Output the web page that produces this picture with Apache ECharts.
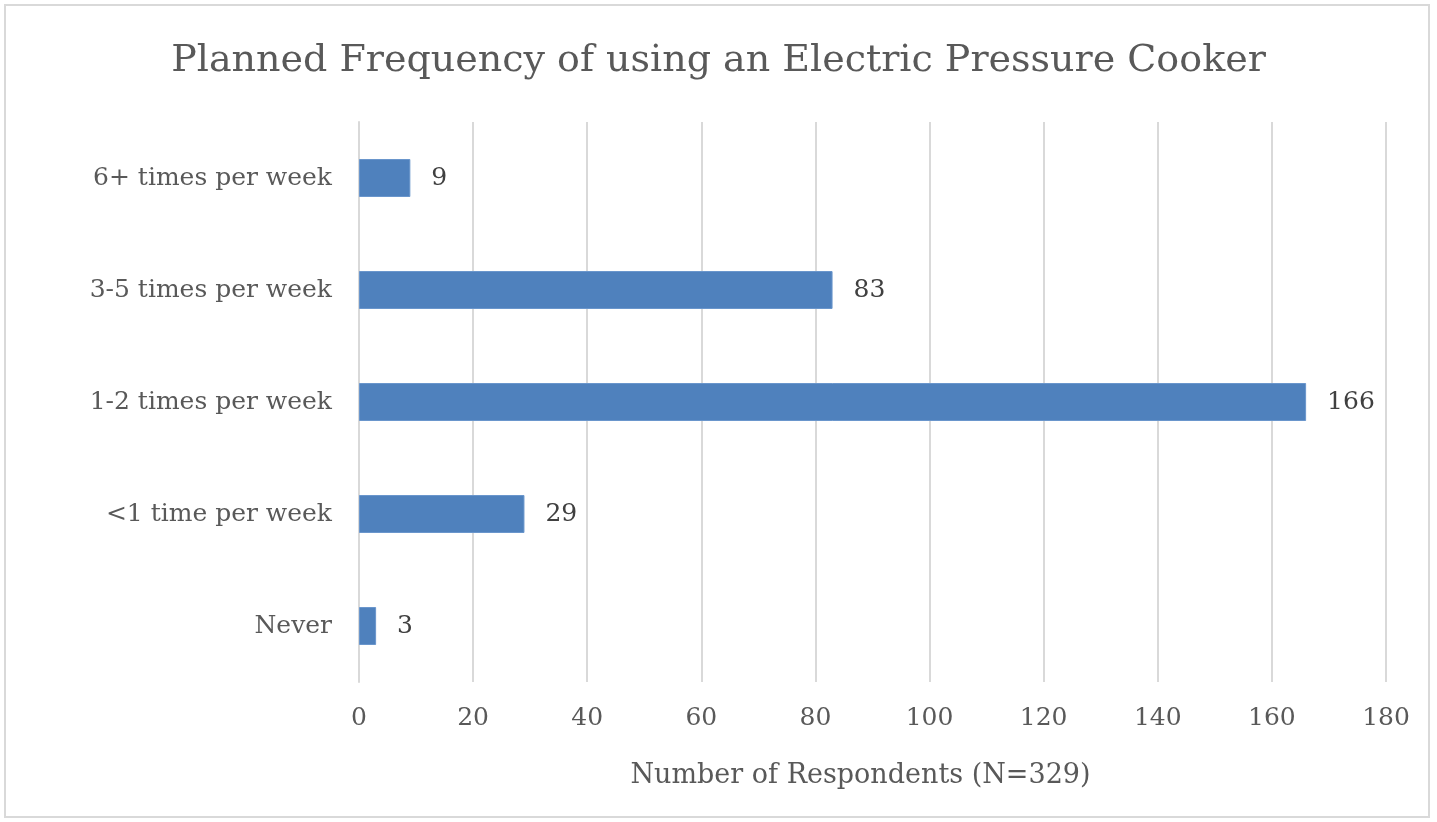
<!DOCTYPE html>
<html>
<head>
<meta charset="utf-8">
<script src="https://cdn.jsdelivr.net/npm/echarts@6/dist/echarts.min.js"></script>
<style>
  html, body { margin: 0; padding: 0; background: #ffffff; }
  #frame { position: absolute; left: 4px; top: 4px; width: 1426px; height: 814px; border: 2px solid #d9d9d9; box-sizing: border-box; }
  #chart { position: absolute; left: 0; top: 0; width: 1437px; height: 822px; }
</style>
</head>
<body>
<div id="frame"></div>
<div id="chart"></div>
<script>
// Survey answers, listed bottom to top as drawn on the category axis
const categories = ['Never', '<1 time per week', '1-2 times per week', '3-5 times per week', '6+ times per week'];
const respondents = [3, 29, 166, 83, 9];
const xTicks = [0, 20, 40, 60, 80, 100, 120, 140, 160, 180];

const FONT = '"DejaVu Serif", serif';
const TEXT = '#595959';

const chart = echarts.init(document.getElementById('chart'), null, { renderer: 'canvas' });
chart.setOption({
  backgroundColor: 'transparent',
  animation: false,
  title: {
    text: 'Planned Frequency of using an Electric Pressure Cooker',
    left: 'center',
    top: 37,
    textStyle: { fontFamily: FONT, fontSize: 38, fontWeight: 'normal', color: TEXT }
  },
  grid: { left: 359, right: 1437 - 1386, top: 122, bottom: 822 - 682, containLabel: false },
  xAxis: {
    type: 'value',
    min: xTicks[0],
    max: xTicks[xTicks.length - 1],
    interval: xTicks[1] - xTicks[0],
    name: 'Number of Respondents (N=329)',
    nameLocation: 'middle',
    nameGap: 80,
    nameTextStyle: { fontFamily: FONT, fontSize: 27, color: TEXT, padding: [0, 24, 0, 0] },
    axisLine: { show: false },
    axisTick: { show: false },
    axisLabel: { fontFamily: FONT, fontSize: 25, color: TEXT, margin: 24 },
    splitLine: { show: true, lineStyle: { color: '#d9d9d9', width: 2 } }
  },
  yAxis: {
    type: 'category',
    data: categories,
    axisLine: { show: true, lineStyle: { color: '#d9d9d9', width: 2 } },
    axisTick: { show: false },
    axisLabel: { fontFamily: FONT, fontSize: 25, color: TEXT, margin: 27 },
    splitLine: { show: false }
  },
  series: [{
    type: 'bar',
    data: respondents,
    barWidth: 38,
    itemStyle: { color: '#4f81bd', borderColor: '#6a96cc', borderWidth: 1 },
    label: {
      show: true,
      position: 'right',
      distance: 21,
      fontFamily: FONT,
      fontSize: 25,
      color: '#404040'
    }
  }]
});
</script>
</body>
</html>
